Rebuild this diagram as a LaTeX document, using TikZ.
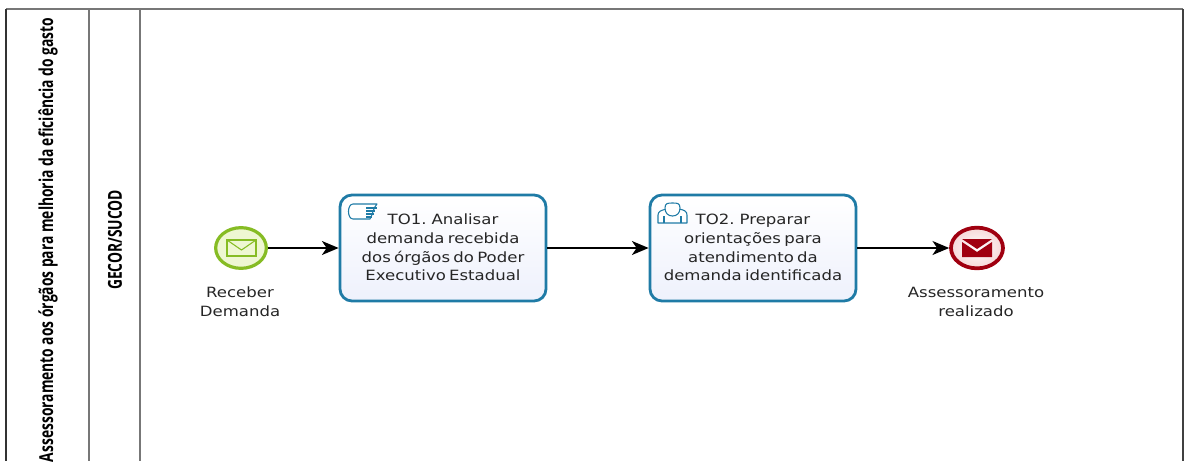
\documentclass[tikz,border=0pt]{standalone}
\usepackage{fontspec}
\setmainfont[FakeStretch=1.17,WordSpace=0.62]{DejaVu Sans}
\newfontfamily\lanefont[FakeStretch=0.72]{Open Sans}
\usetikzlibrary{arrows.meta,shapes.geometric}
\definecolor{taskblue}{HTML}{1F7BA6}
\definecolor{taskfill}{HTML}{EEF1FC}
\definecolor{startgreen}{HTML}{86BC24}
\definecolor{startfill}{HTML}{EEF7D2}
\definecolor{endred}{HTML}{A00010}
\definecolor{endfill}{HTML}{F6D8D8}
\definecolor{lanegray}{HTML}{777777}
\tikzset{
  tasknode/.style={draw=taskblue,line width=2.1pt,rounded corners=9pt,minimum width=154.5pt,minimum height=79.5pt,top color=white,bottom color=taskfill,inner sep=0pt},
  tasktext/.style={align=center,font=\fontsize{10.6}{14.1}\selectfont,text=black!85,inner sep=0pt},
  evlabel/.style={align=center,font=\fontsize{10.6}{14.1}\selectfont,text=black!85,inner sep=0pt},
  startev/.style={ellipse,draw=startgreen,line width=2.4pt,fill=startfill,minimum width=38pt,minimum height=30.5pt,inner sep=0pt},
  endev/.style={ellipse,draw=endred,line width=2.8pt,inner color=white,outer color=endfill,minimum width=39pt,minimum height=30.5pt,inner sep=0pt},
  flow/.style={draw=black,line width=0.9pt,-{Stealth[length=12.5pt,width=10.5pt,inset=3.5pt]}},
  lanetitle/.style={rotate=90,font=\lanefont\bfseries\fontsize{14.4}{17}\selectfont,text=black,inner sep=0pt},
  laneline/.style={draw=lanegray,line width=1pt},
  iconline/.style={draw=taskblue,line width=0.8pt,fill=white,line join=round}
}
\begin{document}
\begin{tikzpicture}[x=0.75pt,y=-0.75pt]
\useasboundingbox (0,0) rectangle (1185,461);
\fill[white] (0,0) rectangle (1185,461);
% frame
\draw[laneline] (6,9) -- (1183,9);
\draw[draw=black!80,line width=1pt] (6,9) -- (6,461);
\draw[laneline] (89,9) -- (89,461);
\draw[laneline] (140,9) -- (140,461);
\draw[draw=black!75,line width=1pt] (1183,9) -- (1183,461);
% lane titles
\node[lanetitle] (pool) at (48,240) {Assessoramento aos órgãos para melhoria da eficiência do gasto};
\node[lanetitle] (lane) at (115,240) {GECOR/SUCOD};
% nodes
\node[startev] (start) at (241,248) {};
\node[tasknode] (t1) at (443,248) {};
\node[tasknode] (t2) at (753,248) {};
\node[endev] (end) at (977,248) {};
% texts
\node[tasktext] (t1text) at (443,247.5) {TO1. Analisar\\demanda recebida\\dos órgãos do Poder\\Executivo Estadual};
\node[tasktext] (t2text) at (753,247.5) {TO2. Preparar\\orientações para\\atendimento da\\demanda identificada};
\node[evlabel] (l1) at (240,302) {Receber\\Demanda};
\node[evlabel] (l2) at (976,302) {Assessoramento\\realizado};
% connectors
\draw[flow] (start) -- (t1);
\draw[flow] (t1) -- (t2);
\draw[flow] (t2) -- (end);
% start envelope
\draw[draw=startgreen,line width=0.9pt,fill=startfill] (227,240) rectangle (256,256);
\draw[draw=startgreen,line width=0.8pt] (227,240) -- (241.5,250) -- (256,240);
% end envelope
\fill[endred] (962,239) -- (977,249) -- (992,239) -- cycle;
\fill[endred] (962,242) -- (977,252) -- (992,242) -- (992,257) -- (962,257) -- cycle;
% script icon
\draw[iconline] (353,204) .. controls (347,204) and (347,219) .. (353,219) -- (370,219) .. controls (373,214) and (373,208) .. (377,204) -- cycle;
\draw[iconline] (366,208) -- (377,208) (366,211) -- (375,211) (366,214) -- (374,214) (366,217) -- (372,217);
% user icon
\draw[iconline] (658,223) -- (658,215) .. controls (658,211) and (662,210) .. (667,209) -- (679,209) .. controls (684,210) and (687,211) .. (687,215) -- (687,223) -- cycle;
\draw[iconline] (665,208) .. controls (665,203) and (668,203) .. (672.5,203) .. controls (677,203) and (680,203) .. (680,208) .. controls (680,213) and (677,216) .. (672.5,216) .. controls (668,216) and (665,213) .. (665,208) -- cycle;
\draw[draw=taskblue,line width=0.8pt] (664,223) -- (664,216) (681,223) -- (681,216);
\end{tikzpicture}
\end{document}
